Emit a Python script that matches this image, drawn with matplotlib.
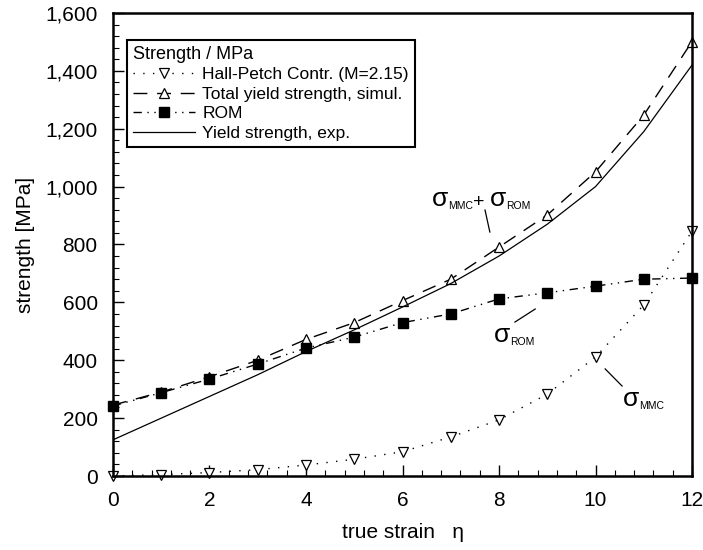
import matplotlib
matplotlib.use('Agg')
import matplotlib.pyplot as plt
import matplotlib.ticker as mticker
from matplotlib.offsetbox import AnnotationBbox, HPacker, TextArea
import numpy as np

plt.rcParams['font.family'] = ['Liberation Sans', 'DejaVu Sans']

strain = [0, 1, 2, 3, 4, 5, 6, 7, 8, 9, 10, 11, 12]
hall_petch = [0, 5, 12, 22, 38, 58, 84, 135, 194, 283, 411, 591, 846]
total_sim = [245, 290, 343, 400, 472, 530, 606, 680, 791, 902, 1051, 1247, 1501]
rom = [242, 288, 335, 387, 442, 480, 530, 560, 612, 633, 656, 680, 684]
yield_exp = [125, 200, 275, 350, 430, 505, 584, 665, 760, 870, 1000, 1190, 1420]


def sigma_label(ax, x, y, parts):
    # parts: list of (text, size) pairs packed side by side, bottom aligned
    boxes = [TextArea(t, textprops=dict(fontsize=s, color='black'))
             for t, s in parts]
    pack = HPacker(children=boxes, align='bottom', pad=0, sep=0)
    ab = AnnotationBbox(pack, (x, y), xycoords='data', frameon=False,
                        box_alignment=(0.5, 0.5))
    ax.add_artist(ab)


def main() -> None:
    fig = plt.figure(figsize=(7.03, 5.5), dpi=100)
    ax = fig.add_axes([0.1607, 0.1345, 0.8237, 0.842])

    ax.plot(strain, hall_petch, ls=(0, (1, 6)), lw=1, c='black',
            marker='v', ms=7.5, mfc='white', mec='black', mew=0.9,
            clip_on=False, label='Hall-Petch Contr. (M=2.15)')
    ax.plot(strain, total_sim, ls=(0, (10, 7)), lw=1, c='black',
            marker='^', ms=7.5, mfc='white', mec='black', mew=0.9,
            clip_on=False, label='Total yield strength, simul.')
    ax.plot(strain, rom, ls=(0, (6, 4, 1, 4, 1, 4)), lw=1, c='black',
            marker='s', ms=7.5, mfc='black', mec='black',
            clip_on=False, label='ROM')
    ax.plot(strain, yield_exp, ls='-', lw=0.9, c='black',
            label='Yield strength, exp.')

    ax.set_xlim(0, 12)
    ax.set_ylim(0, 1600)
    ax.xaxis.set_major_locator(mticker.MultipleLocator(2))
    ax.xaxis.set_minor_locator(mticker.MultipleLocator(0.4))
    ax.yaxis.set_major_locator(mticker.MultipleLocator(200))
    ax.yaxis.set_minor_locator(mticker.MultipleLocator(40))
    ax.yaxis.set_major_formatter(
        mticker.FuncFormatter(lambda v, p: f'{int(v):,}'))
    ax.tick_params(which='both', direction='in', labelsize=15)
    ax.tick_params(which='major', length=8, width=1)
    ax.tick_params(which='minor', length=4, width=0.8)
    ax.tick_params(axis='x', pad=11)
    ax.tick_params(axis='y', pad=11)
    for s in ax.spines.values():
        s.set_linewidth(1.8)

    ax.set_xlabel('true strain   \u03b7', fontsize=15, labelpad=9)
    ax.set_ylabel('strength [MPa]', fontsize=15, labelpad=7)

    leg = ax.legend(loc='upper left', bbox_to_anchor=(0.024, 0.942),
                    borderaxespad=0, title='Strength / MPa',
                    fontsize=12.5, title_fontsize=13, fancybox=False,
                    framealpha=1, edgecolor='black', handlelength=3.6,
                    borderpad=0.35, labelspacing=0.25, handletextpad=0.4)
    leg._legend_box.align = 'left'
    leg.get_frame().set_linewidth(1.5)

    sigma_label(ax, 7.63, 957, [('\u03c3', 19), ('MMC', 7.5), ('+ ', 14),
                                ('\u03c3', 19), ('ROM', 7.5)])
    ax.plot([7.71, 7.81], [919, 843], c='black', lw=0.9)
    sigma_label(ax, 8.31, 487, [('\u03c3', 19), ('ROM', 7.5)])
    ax.plot([8.33, 8.75], [532, 577], c='black', lw=0.9)
    sigma_label(ax, 11.0, 266, [('\u03c3', 19), ('MMC', 7.5)])
    ax.plot([10.2, 10.55], [370, 311], c='black', lw=0.9)

    fig.savefig('out.png', dpi=100)


if __name__ == '__main__':
    main()
